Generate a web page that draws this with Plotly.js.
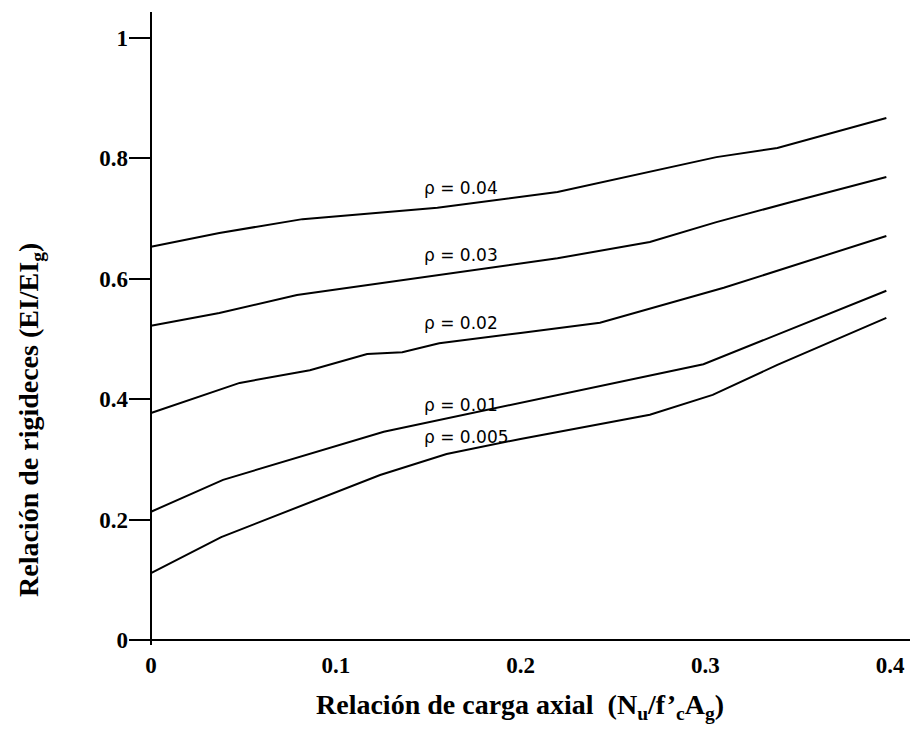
<!DOCTYPE html>
<html>
<head>
<meta charset="utf-8">
<script src="https://cdn.plot.ly/plotly-3.0.1.min.js"></script>
<style>html,body{margin:0;padding:0;background:#fff;}#chart{width:910px;height:740px;}</style>
</head>
<body>
<div id="chart"></div>
<script>
// Axial load ratio (x) and stiffness ratio (y) for each reinforcement ratio
const x_p040 = [0, 0.037, 0.082, 0.155, 0.22, 0.306, 0.339, 0.398];
const y_p040 = [0.653, 0.676, 0.699, 0.718, 0.744, 0.802, 0.817, 0.867];

const x_p030 = [0, 0.037, 0.079, 0.2, 0.22, 0.27, 0.306, 0.346, 0.398];
const y_p030 = [0.522, 0.543, 0.573, 0.626, 0.634, 0.661, 0.694, 0.727, 0.769];

const x_p020 = [0, 0.048, 0.086, 0.117, 0.136, 0.156, 0.2, 0.243, 0.31, 0.357, 0.398];
const y_p020 = [0.377, 0.427, 0.448, 0.475, 0.478, 0.493, 0.510, 0.527, 0.585, 0.631, 0.671];

const x_p010 = [0, 0.039, 0.126, 0.19, 0.299, 0.398];
const y_p010 = [0.213, 0.266, 0.346, 0.387, 0.458, 0.580];

const x_p005 = [0, 0.038, 0.124, 0.16, 0.2, 0.27, 0.304, 0.339, 0.398];
const y_p005 = [0.111, 0.171, 0.274, 0.309, 0.334, 0.374, 0.407, 0.457, 0.535];

const seriesLabels = ["ρ = 0.04", "ρ = 0.03", "ρ = 0.02", "ρ = 0.01", "ρ = 0.005"];
const labelX = [0.1467, 0.1467, 0.1467, 0.1467, 0.1467];
const labelY = [0.751, 0.640, 0.527, 0.390, 0.337];

const xTicks = [0, 0.1, 0.2, 0.3, 0.4];
const yTicks = [0, 0.2, 0.4, 0.6, 0.8, 1];

const xTitle = "Relación de carga axial  (N<sub>u</sub>/f’<sub>c</sub>A<sub>g</sub>)";
const yTitle = "Relación de rigideces (EI/EI<sub>g</sub>)";

const xs = [x_p040, x_p030, x_p020, x_p010, x_p005];
const ys = [y_p040, y_p030, y_p020, y_p010, y_p005];

const traces = xs.map((xv, i) => ({
  x: xv, y: ys[i], type: 'scatter', mode: 'lines',
  line: {color: '#000', width: 2}, name: seriesLabels[i], hoverinfo: 'skip'
}));

const annotations = seriesLabels.map((t, i) => ({
  x: labelX[i], y: labelY[i], xref: 'x', yref: 'y', text: t, showarrow: false,
  xanchor: 'left', yanchor: 'middle',
  font: {family: 'DejaVu Sans, sans-serif', size: 17, color: '#000'}
}));

const W = 910, H = 740, L = 129, R = 0, T = 12, B = 95;

annotations.push({
  x: (520 - L) / (W - L - R), y: (H - B - 706) / (H - T - B), xref: 'paper', yref: 'paper',
  yanchor: 'middle', xanchor: 'center',
  text: '<b>' + xTitle + '</b>', showarrow: false,
  font: {family: 'Liberation Serif, serif', size: 28, color: '#000'}
});
annotations.push({
  x: (30 - L) / (W - L - R), y: (H - B - 420) / (H - T - B), xref: 'paper', yref: 'paper',
  xanchor: 'center', yanchor: 'middle',
  text: '<b>' + yTitle + '</b>', showarrow: false, textangle: -90,
  font: {family: 'Liberation Serif, serif', size: 28, color: '#000'}
});

const layout = {
  width: W, height: H,
  margin: {l: L, r: R, t: T, b: B, pad: 0},
  paper_bgcolor: '#fff', plot_bgcolor: '#fff',
  showlegend: false,
  font: {family: 'Liberation Serif, serif', color: '#000'},
  xaxis: {
    range: [-0.0119, 0.4108], showgrid: false, zeroline: true, zerolinecolor: '#000', zerolinewidth: 2.5,
    showline: false, tickvals: xTicks, ticks: '', ticklabelstandoff: 4,
    tickfont: {family: 'Liberation Serif, serif', size: 23, color: '#000', weight: 'bold'}
  },
  yaxis: {
    range: [-0.0083, 1.043], showgrid: false, zeroline: true, zerolinecolor: '#000', zerolinewidth: 2.5,
    showline: false, tickvals: yTicks, ticks: 'inside', ticklen: 21, tickwidth: 2, tickcolor: '#000',
    tickfont: {family: 'Liberation Serif, serif', size: 23, color: '#000', weight: 'bold'}
  },
  annotations: annotations
};

Plotly.newPlot('chart', traces, layout, {displayModeBar: false, staticPlot: true});
</script>
</body>
</html>
